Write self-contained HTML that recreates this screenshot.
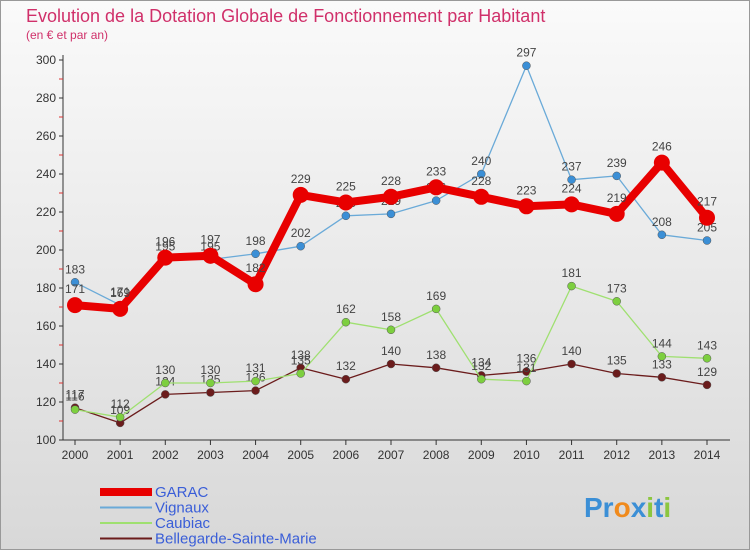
<!DOCTYPE html>
<html><head><meta charset="utf-8"><style>
body{margin:0;width:750px;height:550px;overflow:hidden;font-family:"Liberation Sans",sans-serif}
</style></head><body>
<svg width="750" height="550" xmlns="http://www.w3.org/2000/svg" id="chart">
<defs><linearGradient id="bg" x1="0" y1="0" x2="0" y2="1"><stop offset="0" stop-color="#fafafa"/><stop offset="1" stop-color="#d8d8d8"/></linearGradient></defs>
<rect x="0.5" y="0.5" width="749" height="549" fill="url(#bg)" stroke="#999"/>
<text x="26" y="22" font-size="18" fill="#d0306a">Evolution de la Dotation Globale de Fonctionnement par Habitant</text>
<text x="26" y="39" font-size="12" fill="#d0306a">(en € et par an)</text>
<g id="axes"></g><g id="series"></g><g id="legend"></g>
<g font-size="28" font-weight="bold">
<text x="584" y="517"><tspan fill="#3b8fd6">Pr</tspan><tspan fill="#f08a1c">o</tspan><tspan fill="#3b8fd6">x</tspan><tspan fill="#8cc63f">i</tspan><tspan fill="#3b8fd6">t</tspan><tspan fill="#8cc63f">i</tspan></text></g>
</svg>
<script>
const years=[2000,2001,2002,2003,2004,2005,2006,2007,2008,2009,2010,2011,2012,2013,2014];
const yTicks=[100,120,140,160,180,200,220,240,260,280,300];
const garac=[171,169,196,197,182,229,225,228,233,228,223,224,219,246,217];
const vignaux=[183,171,195,195,198,202,218,219,226,240,297,237,239,208,205];
const caubiac=[116,112,130,130,131,135,162,158,169,132,131,181,173,144,143];
const bellegarde=[117,109,124,125,126,138,132,140,138,134,136,140,135,133,129];
const NS="http://www.w3.org/2000/svg";
function X(i){return 75+i*(707-75)/(years.length-1);}
function Y(v){return 440-(v-100)*1.9;}
function mk(t,a,p){const e=document.createElementNS(NS,t);for(const k in a)e.setAttribute(k,a[k]);p.appendChild(e);return e;}
const ax=document.getElementById('axes');
let l=mk('line',{x1:63,y1:55,x2:63,y2:440,stroke:'#333'},ax);


l=mk('line',{x1:63,y1:440,x2:730,y2:440,stroke:'#333'},ax);


yTicks.forEach(v=>{
 mk('line',{x1:59,y1:Y(v),x2:63,y2:Y(v),stroke:'#333'},ax);
 if(v<300) mk('line',{x1:59,y1:Y(v+10),x2:63,y2:Y(v+10),stroke:'#d33'},ax);
 const t=mk('text',{x:56,y:Y(v)+4,'text-anchor':'end','font-size':12,fill:'#333'},ax);t.textContent=v;
 
 
});
years.forEach((yr,i)=>{
 mk('line',{x1:X(i),y1:440,x2:X(i),y2:445,stroke:'#333'},ax);
 const t=mk('text',{x:X(i),y:459,'text-anchor':'middle','font-size':12,fill:'#333'},ax);t.textContent=yr;
 
 
});
const sg=document.getElementById('series');
const defs=[
 {d:bellegarde,c:'#6b1c1c',dc:'#6b1c1c',w:1.3,r:4,n:'bellegarde'},
 {d:caubiac,c:'#9fe070',dc:'#7dcf3f',w:1.3,r:4,n:'caubiac'},
 {d:vignaux,c:'#6aaad8',dc:'#3b8fd6',w:1.3,r:4,n:'vignaux'},
 {d:garac,c:'#e80000',dc:'#e80000',w:8,r:8,n:'garac'}];
defs.forEach(s=>{
 const g=mk('g',{},sg);
 
 
 const p=mk('polyline',{points:s.d.map((v,i)=>X(i)+','+Y(v)).join(' '),fill:'none',stroke:s.c,'stroke-width':s.w,'stroke-linejoin':'round'},g);
 
 
 s.d.forEach((v,i)=>{
  const c=mk('circle',{cx:X(i),cy:Y(v),r:s.r,fill:s.dc,stroke:s.r<5?'#555':'none','stroke-width':0.5},g);
  
  
  const t=mk('text',{x:X(i),y:Y(v)-(s.r<5?9:12),'text-anchor':'middle','font-size':12,fill:'#444'},g);t.textContent=v;
  
  
 });
});
const lg=document.getElementById('legend');
const leg=[['GARAC','#e80000',8,'#3a5ed8'],['Vignaux','#6aaad8',2,'#3a5ed8'],['Caubiac','#9fe070',2,'#3a5ed8'],['Bellegarde-Sainte-Marie','#6b1c1c',2,'#3a5ed8']];
leg.forEach((e,i)=>{
 const y=492+i*15.5;
 const g=mk('g',{},lg);
 
 
 mk('line',{x1:100,y1:y,x2:152,y2:y,stroke:e[1],'stroke-width':e[2]},g);
 const t=mk('text',{x:155,y:y+5,'font-size':15,fill:e[3]},g);t.textContent=e[0];
});
</script>
</body></html>
